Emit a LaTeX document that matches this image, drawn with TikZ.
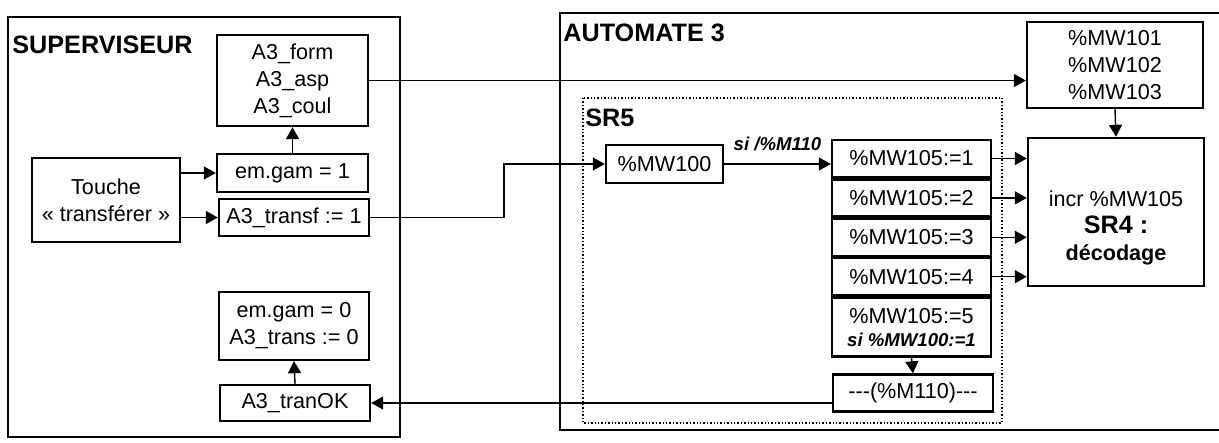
\documentclass[tikz,border=0pt]{standalone}
\usepackage{fontspec}
\setmainfont{Liberation Sans}
\usetikzlibrary{positioning,arrows.meta}
\newcommand{\fsnorm}{\fontsize{10.8}{13.5}\selectfont}
\newcommand{\fshead}{\fontsize{12.6}{15}\selectfont\bfseries}
\newcommand{\fscond}{\fontsize{9.3}{11}\selectfont\bfseries\itshape}
\tikzset{
  box/.style={rectangle,draw,line width=1.2pt,align=center,inner sep=1pt,font=\fsnorm},
  row/.style={box,minimum width=79.5pt,minimum height=18.5pt},
  frame/.style={draw,line width=1.4pt},
  zone/.style={draw,densely dotted,line width=0.7pt},
  ttl/.style={anchor=west,inner sep=0pt,font=\fshead},
  ar/.style={-{Triangle[length=6pt,width=6.5pt]},line width=0.7pt},
  cond/.style={font=\fscond,inner sep=1pt},
}

\begin{document}
\begin{tikzpicture}[x=0.5pt,y=-0.5pt]
  \useasboundingbox (0,0) rectangle (1219,443);
  % cadres
  \draw[frame] (8,17) rectangle (400,437);
  \draw[frame] (560,13) rectangle (1240,430);
  \draw[zone] (583,98) rectangle (1002,423);
  \node[ttl] (tsup) at (12,45) {SUPERVISEUR};
  \node[ttl] (taut) at (563,33) {AUTOMATE 3};
  \node[ttl] (tsr5) at (585,118) {SR5};

  % superviseur
  \node[box,minimum width=75.5pt,minimum height=45.5pt] (form) at (292.5,80.5) {A3\_form\\A3\_asp\\A3\_coul};
  \node[box,minimum width=75.5pt,minimum height=19pt] (gam1) at (292.5,173) {em.gam = 1};
  \node[box,minimum width=75pt,minimum height=18.5pt] (transf) at (294,217.5) {A3\_transf := 1};
  \node[box,minimum width=74pt,minimum height=42pt] (touche) at (106,200) {Touche\\« transférer »};
  \node[box,minimum width=75pt,minimum height=34pt] (gam0) at (294,326) {em.gam = 0\\A3\_trans := 0};
  \node[box,minimum width=75pt,minimum height=18pt] (tranok) at (295,403) {A3\_tranOK};
  \draw[ar] (gam1.west -| touche.east) -- (gam1.west);
  \draw[ar] (transf.west -| touche.east) -- (transf.west);
  \draw[ar] (gam1.north) -- (form.south);
  \draw[ar] (tranok.north) -- (gam0.south);

  % automate 3 / SR5
  \node[box,minimum width=58.5pt,minimum height=19pt] (mw100) at (664.5,164) {\%MW100};
  \node[row] (r1) at (911.5,158.5) {\%MW105:=1};
  \foreach \i/\j in {2/1,3/2,4/3}
    \node[row,below=0pt of r\j] (r\i) {\%MW105:=\i};
  \node[row,minimum height=29.5pt,below=0pt of r4] (r5) {\%MW105:=5\\[-2pt]{\fscond si \%MW100:=1}};
  \node[box,minimum width=80pt,minimum height=18.5pt] (m110) at (913,393) {-{}-{}-(\%M110)-{}-{}-};
  \node[box,minimum width=88pt,minimum height=43pt] (mw101) at (1115,65) {\%MW101\\\%MW102\\\%MW103};
  \node[box,minimum width=88pt,minimum height=74pt] (sr4) at (1116,212) {\rule{0pt}{24pt}incr \%MW105\\{\fshead SR4 :}\\{\bfseries décodage}};
  \coordinate (bend) at (504,0);

  \draw[ar] (form.east) -- (form.east -| mw101.west);
  \draw[ar] (transf.east) -- (transf.east -| bend) |- (mw100.west);
  \draw[ar] (mw100.east) -- node[cond,above=5pt] (si) {si /\%M110} (mw100.east -| r1.west);
  \foreach \i in {1,...,4}
    \draw[ar] (r\i.east) -- (r\i.east -| sr4.west);
  \draw[ar] (mw101.south) -- (sr4.north);
  \draw[ar] (r5.south) -- (m110.north);
  \draw[ar] (tranok.east -| m110.west) -- (tranok.east);
\end{tikzpicture}
\end{document}
